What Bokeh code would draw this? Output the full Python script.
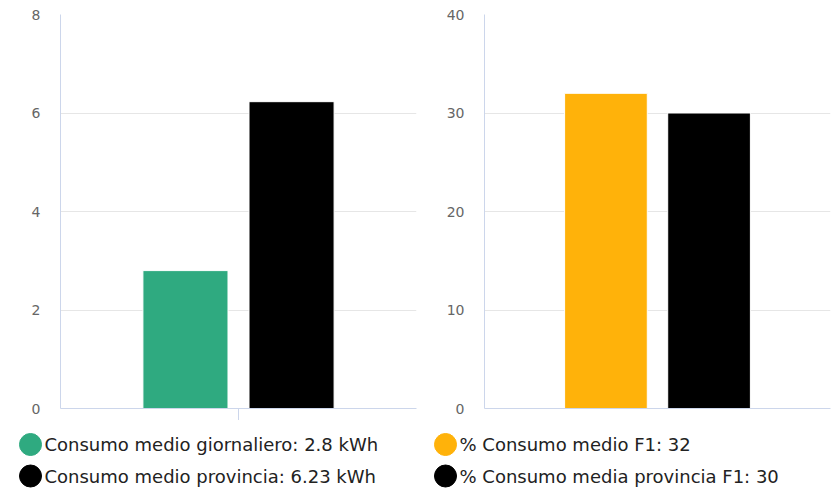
from bokeh.plotting import figure
from bokeh.layouts import column, row
from bokeh.models import Range1d, FactorRange, FixedTicker, ColumnDataSource
from bokeh.transform import dodge
from bokeh.embed import file_html
from bokeh.resources import INLINE
from bokeh.core.properties import value

category = ["consumo"]

left_labels = ["Consumo medio giornaliero: 2.8 kWh", "Consumo medio provincia: 6.23 kWh"]
left_values = [2.8, 6.23]
left_colors = ["#2faa80", "#000000"]
left_ticks = [0, 2, 4, 6, 8]

right_labels = ["% Consumo medio F1: 32", "% Consumo media provincia F1: 30"]
right_values = [32, 30]
right_colors = ["#ffb20a", "#000000"]
right_ticks = [0, 10, 20, 30, 40]

FONT = "DejaVu Sans"
AXIS_COLOR = "#ccd6eb"
GRID_COLOR = "#e6e6e6"


def make_chart(values, colors, ticks, width, border_left, border_right, tick_out):
    p = figure(
        width=width, height=420,
        x_range=FactorRange(*category, range_padding=0),
        y_range=Range1d(ticks[0], ticks[-1]),
        output_backend="svg", toolbar_location=None,
        min_border_left=border_left, min_border_right=border_right,
        min_border_top=14, min_border_bottom=12,
    )
    p.outline_line_color = None
    p.background_fill_color = "white"
    p.border_fill_color = "white"
    offsets = [-0.149, 0.149]
    for i, (v, c) in enumerate(zip(values, colors)):
        src = ColumnDataSource(dict(cat=category, top=[v]))
        p.vbar(x=dodge("cat", offsets[i], range=p.x_range), top="top", bottom=0,
               width=0.239, source=src, fill_color=c, line_color="white", line_width=1)
    # y axis
    p.yaxis.ticker = FixedTicker(ticks=ticks)
    p.yaxis.axis_line_color = AXIS_COLOR
    p.yaxis.major_tick_line_color = None
    p.yaxis.major_tick_out = 0
    p.yaxis.major_tick_in = 0
    p.yaxis.minor_tick_line_color = None
    p.yaxis.major_label_text_font = FONT
    p.yaxis.major_label_text_font_size = "14px"
    p.yaxis.major_label_text_color = "#666666"
    p.yaxis.major_label_standoff = 20
    # x axis (tick only, no label)
    p.xaxis.axis_line_color = AXIS_COLOR
    p.xaxis.major_tick_line_color = AXIS_COLOR if tick_out else None
    p.xaxis.major_tick_out = tick_out
    p.xaxis.major_tick_in = 0
    p.xaxis.major_label_text_color = None
    p.xaxis.major_label_text_font_size = "0px"
    p.xaxis.major_label_standoff = 0
    p.xgrid.grid_line_color = None
    p.ygrid.grid_line_color = GRID_COLOR
    p.ygrid.ticker = FixedTicker(ticks=ticks)
    return p


left = make_chart(left_values, left_colors, left_ticks, 420, 60, 4, 12)
right = make_chart(right_values, right_colors, right_ticks, 418, 64, 8, 0)

# legend strip
LEG_W, LEG_H = 838, 69
leg = figure(width=LEG_W, height=LEG_H, x_range=Range1d(0, LEG_W), y_range=Range1d(LEG_H, 0),
             output_backend="svg", toolbar_location=None, min_border=0)
leg.outline_line_color = None
leg.axis.visible = False
leg.grid.visible = False
row_y = [24, 55.5]
for labels, colors, cx, tx in [(left_labels, left_colors, 30, 44),
                               (right_labels, right_colors, 445, 459)]:
    src = ColumnDataSource(dict(x=[cx] * len(labels), tx=[tx] * len(labels),
                                y=row_y[:len(labels)], label=labels, color=colors))
    leg.scatter(x="x", y="y", size=22, marker="circle", fill_color="color",
                line_color="color", source=src)
    leg.text(x="tx", y="y", text="label", source=src, text_font=value(FONT),
             text_font_size="18px", text_color="#222222", text_baseline="middle",
             text_align="left")

layout = column(row(left, right, spacing=0), leg, spacing=0)

open("out.html", "w").write(file_html(layout, INLINE))
